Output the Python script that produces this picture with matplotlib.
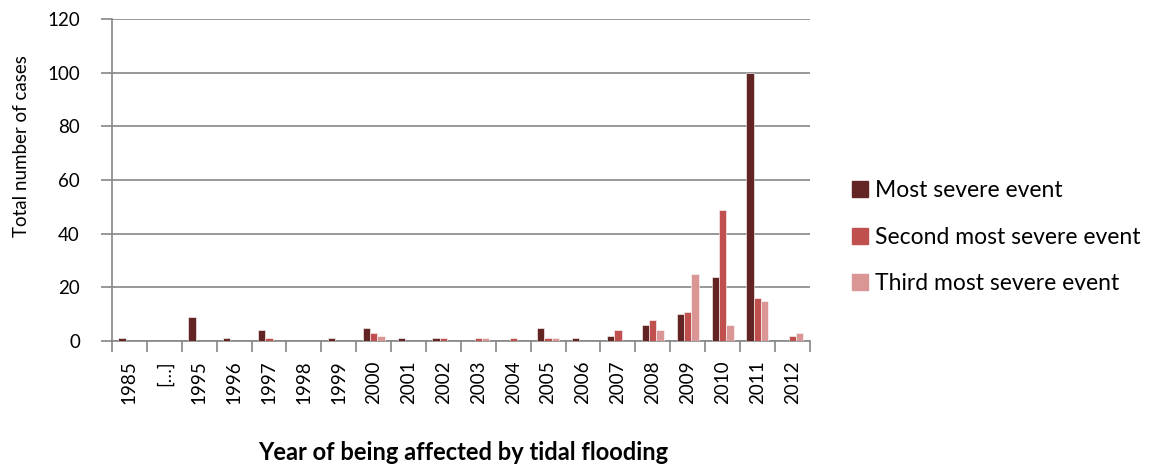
import numpy as np
import matplotlib.pyplot as plt
from matplotlib.patches import Patch

# categories (years) and counts
years = ['1985', '[…]', '1995', '1996', '1997', '1998', '1999', '2000', '2001', '2002',
         '2003', '2004', '2005', '2006', '2007', '2008', '2009', '2010', '2011', '2012']
most = [1, 0, 9, 1, 4, 0, 1, 5, 1, 1, 0, 0, 5, 1, 2, 6, 10, 24, 100, 0]
second = [0, 0, 0, 0, 1, 0, 0, 3, 0, 1, 1, 1, 1, 0, 4, 8, 11, 49, 16, 2]
third = [0, 0, 0, 0, 0, 0, 0, 2, 0, 0, 1, 0, 1, 0, 0, 4, 25, 6, 15, 3]
series_names = ['Most severe event', 'Second most severe event', 'Third most severe event']
colors = ['#632523', '#C0504D', '#D99694']

plt.rcParams['font.family'] = ['Lato', 'DejaVu Sans']

fig = plt.figure(figsize=(11.65, 4.66), dpi=100)
ax = fig.add_axes([0.0961, 0.268, 0.599, 0.691])

x = np.arange(len(years))
w = 0.21
for k, vals in enumerate([most, second, third]):
    ax.bar(x + (k - 1) * w, vals, w, color=colors[k], edgecolor='white', linewidth=0.4, zorder=3)

ax.set_xlim(-0.5, len(years) - 0.5)
ax.set_ylim(0, 120)
ax.set_yticks(np.arange(0, 121, 20))
ax.yaxis.grid(True, color='#868686', linewidth=1.2, zorder=0)

# ticks between categories, labels centered
ax.set_xticks(np.arange(-0.5, len(years), 1))
ax.set_xticklabels([])
ax.set_xticks(x, minor=True)
ax.set_xticklabels(years, minor=True, rotation=90, fontsize=13.5)
ax.tick_params(axis='x', which='minor', length=0, pad=14)
ax.tick_params(axis='x', which='major', length=8, width=1.2, color='#868686')
ax.tick_params(axis='y', length=8, width=1.2, color='#868686', labelsize=13.5, pad=15)

for s in ['top', 'right']:
    ax.spines[s].set_visible(False)
for s in ['left', 'bottom']:
    ax.spines[s].set_color('#868686')
    ax.spines[s].set_linewidth(1.2)

ax.set_ylabel('Total number of cases', fontsize=13.5)
ax.yaxis.set_label_coords(-0.118, 0.605)
ax.set_xlabel('Year of being affected by tidal flooding', fontsize=17, fontweight='bold')
ax.xaxis.set_label_coords(0.504, -0.31)

handles = [Patch(color=c) for c in colors]
leg = fig.legend(handles, series_names, loc='center left', bbox_to_anchor=(0.731, 0.491),
                 frameon=False, fontsize=16.5, handlelength=0.7, handleheight=0.7,
                 handletextpad=0.3, labelspacing=1.1, borderpad=0, borderaxespad=0)

fig.savefig('out.png', dpi=100)
